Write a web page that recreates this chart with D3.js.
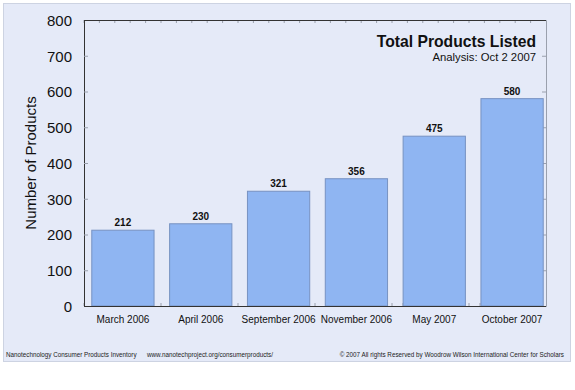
<!DOCTYPE html>
<html><head><meta charset="utf-8">
<script src="https://cdn.jsdelivr.net/npm/d3@7"></script>
<style>body{margin:0;background:#fff;}svg{display:block;font-family:"Liberation Sans",Arial,sans-serif;}</style>
</head><body>
<script>
const categories = ["March 2006","April 2006","September 2006","November 2006","May 2007","October 2007"];
const values = [212,230,321,356,475,580];
const yTicks = [0,100,200,300,400,500,600,700,800];
const title = "Total Products Listed";
const subtitle = "Analysis: Oct 2 2007";
const yLabel = "Number of Products";
const footLeft = "Nanotechnology Consumer Products Inventory";
const footMid = "www.nanotechproject.org/consumerproducts/";
const footRight = "© 2007 All rights Reserved by Woodrow Wilson International Center for Scholars";

const W=575,H=390;
const svg=d3.select("body").append("svg").attr("width",W).attr("height",H);
svg.append("rect").attr("x",3.5).attr("y",3.5).attr("width",567).attr("height",358)
  .attr("fill","#e5eaf8").attr("stroke","#cdd3e2");

const L=84,R=546,T=20,B=306;
const x=d3.scaleBand().domain(categories).range([L,551]).paddingInner(0.2).paddingOuter(0.1);
const y=d3.scaleLinear().domain([0,800]).range([B,T]);

const g=svg.append("g");
g.append("g").attr("transform",`translate(${R},0)`)
  .call(d3.axisRight(y).tickValues(yTicks).tickSize(-4).tickFormat(""))
  .call(s=>{s.select(".domain").attr("stroke","#9aa0ad");s.selectAll(".tick line").attr("stroke","#9aa0ad");});
const topTicks=d3.range(L,R,462/30);
g.selectAll(".tt").data(topTicks).join("line").attr("x1",d=>d).attr("x2",d=>d).attr("y1",T).attr("y2",T+3).attr("stroke","#9aa0ad");

svg.selectAll(".bar").data(values).join("rect")
  .attr("x",(d,i)=>x(categories[i])).attr("y",d=>y(d))
  .attr("width",x.bandwidth()).attr("height",d=>B-y(d))
  .attr("fill","#8fb5f2").attr("stroke","#7792c2").attr("stroke-width",1);
svg.selectAll(".vl").data(values).join("text")
  .attr("x",(d,i)=>x(categories[i])+x.bandwidth()/2).attr("y",d=>y(d)-4)
  .attr("text-anchor","middle").attr("font-size",10).attr("font-weight","bold").attr("fill","#111")
  .text(d=>d);

g.selectAll(".bt").data(d3.range(L,R,462/42)).join("line").attr("x1",d=>d).attr("x2",d=>d).attr("y1",B).attr("y2",B-3).attr("stroke","#9aa0ad");

const ya=svg.append("g").attr("transform",`translate(${L},0)`)
  .call(d3.axisLeft(y).tickValues(yTicks).tickSize(0).tickPadding(12));
ya.select(".domain").attr("stroke","#333");
ya.selectAll("text").attr("font-size",15).attr("fill","#111").attr("font-family","Liberation Sans, Arial, sans-serif").attr("dy","0.35em").attr("y",0);
ya.selectAll(".tick").append("line").attr("x1",0).attr("x2",4).attr("stroke","#9aa0ad");
svg.append("line").attr("x1",L).attr("x2",R).attr("y1",T+0.5).attr("y2",T+0.5).attr("stroke","#333");
svg.append("line").attr("x1",L).attr("x2",R).attr("y1",B+0.5).attr("y2",B+0.5).attr("stroke","#333");

const xa=svg.append("g").attr("transform",`translate(0,${B})`)
  .call(d3.axisBottom(x).tickSize(0).tickPadding(10));
xa.select(".domain").remove();
xa.selectAll("text").attr("font-size",10).attr("fill","#111").attr("font-family","Liberation Sans, Arial, sans-serif");

svg.append("text").attr("x",536).attr("y",47).attr("text-anchor","end").attr("font-size",15.7).attr("font-weight","bold").attr("fill","#111").text(title);
svg.append("text").attr("x",536).attr("y",61).attr("text-anchor","end").attr("font-size",11.3).attr("fill","#111").text(subtitle);
svg.append("text").attr("transform",`translate(36,${(T+B)/2}) rotate(-90)`).attr("text-anchor","middle").attr("font-size",15).attr("fill","#111").text(yLabel);

svg.append("text").attr("x",6).attr("y",357).attr("font-size",6.3).attr("fill","#222").text(footLeft);
svg.append("text").attr("x",147).attr("y",357).attr("font-size",6.3).attr("fill","#222").text(footMid);
svg.append("text").attr("x",564).attr("y",357).attr("text-anchor","end").attr("font-size",6.3).attr("fill","#222").text(footRight);
</script>
</body></html>
